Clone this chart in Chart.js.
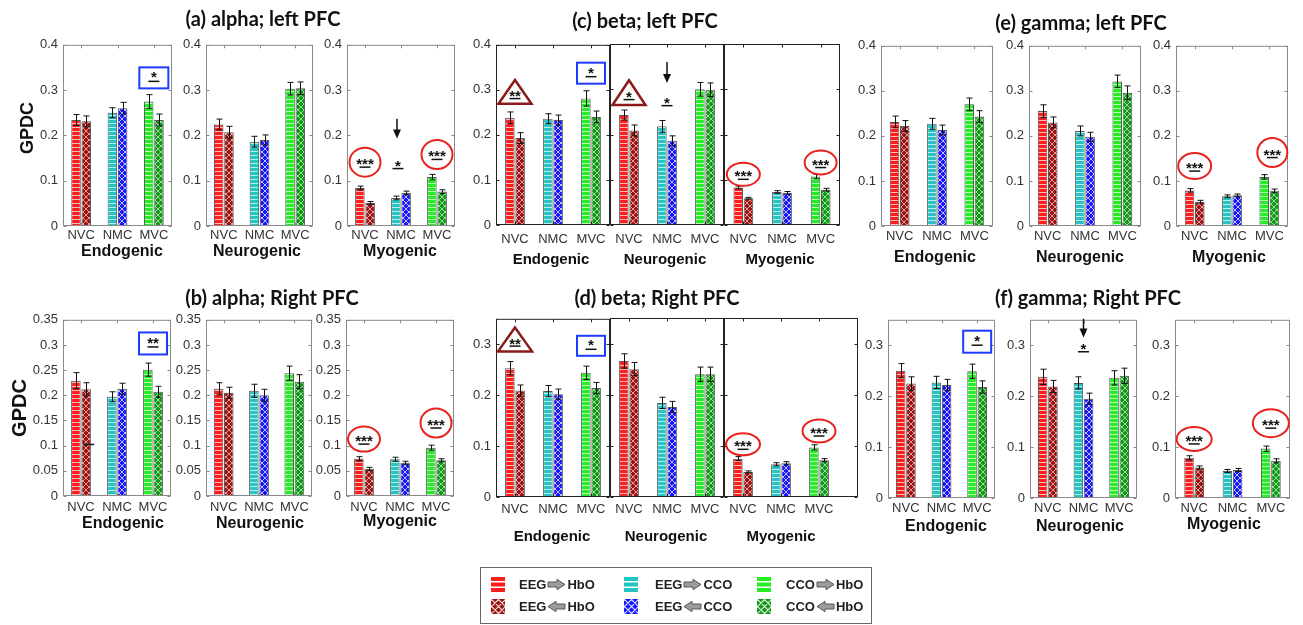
<!DOCTYPE html>
<html>
<head>
<meta charset="utf-8">
<title>GPDC</title>
<script src="https://cdn.jsdelivr.net/npm/chart.js@4.4.1/dist/chart.umd.min.js"></script>
<style>
body{margin:0;width:1303px;height:625px;position:relative;overflow:hidden;background:#fff;font-family:"Liberation Sans",Arial,sans-serif;color:#111}
canvas{position:absolute}
.ttl{position:absolute;transform:translate(-50%,-50%);white-space:nowrap;font-family:Lato,sans-serif;font-weight:700;font-size:20px}
.sub{position:absolute;transform:translate(-50%,-50%);white-space:nowrap;font-weight:700;font-size:16px}
.ylab{position:absolute;transform:translate(-50%,-50%) rotate(-90deg);font-weight:700;white-space:nowrap}
.leg{position:absolute;left:480px;top:567px;width:392px;height:57px;border:1.5px solid #666;box-sizing:border-box}
.lt{position:absolute;transform:translateY(-50%);white-space:nowrap;font-weight:700;font-size:13px;display:flex;align-items:center;color:#222}
.lt svg{margin:0 1px}
</style>
</head>
<body>
<script>
var cats = ['NVC', 'NMC', 'MVC'];
var groups = ['Endogenic', 'Neurogenic', 'Myogenic'];
var titles = ['(a) alpha; left PFC', '(b) alpha; Right PFC', '(c) beta; left PFC', '(d) beta; Right PFC', '(e) gamma; left PFC', '(f) gamma; Right PFC'];
var legFrom = ['EEG', 'EEG', 'CCO'];
var legTo = ['HbO', 'CCO', 'HbO'];

// rows = Endogenic, Neurogenic, Myogenic ; columns = NVC, NMC, MVC
// (a) alpha; left PFC
var aFwd = [[0.234, 0.250, 0.275], [0.224, 0.186, 0.303], [0.084, 0.062, 0.108]];
var aBwd = [[0.231, 0.260, 0.234], [0.207, 0.190, 0.304], [0.051, 0.073, 0.076]];
var aErrF = [[0.012, 0.011, 0.015], [0.012, 0.012, 0.014], [0.004, 0.004, 0.006]];
var aErrB = [[0.012, 0.013, 0.013], [0.013, 0.011, 0.014], [0.003, 0.004, 0.004]];
// (b) alpha; Right PFC
var bFwd = [[0.229, 0.197, 0.251], [0.213, 0.209, 0.244], [0.074, 0.073, 0.096]];
var bBwd = [[0.212, 0.213, 0.207], [0.205, 0.200, 0.227], [0.054, 0.066, 0.071]];
var bErrF = [[0.016, 0.010, 0.013], [0.012, 0.013, 0.014], [0.004, 0.004, 0.005]];
var bErrB = [[0.013, 0.011, 0.011], [0.011, 0.012, 0.014], [0.003, 0.003, 0.003]];
// (c) beta; left PFC
var cFwd = [[0.238, 0.236, 0.281], [0.243, 0.218, 0.300], [0.083, 0.073, 0.107]];
var cBwd = [[0.193, 0.233, 0.240], [0.209, 0.186, 0.299], [0.059, 0.071, 0.078]];
var cErrF = [[0.013, 0.011, 0.017], [0.011, 0.013, 0.015], [0.003, 0.003, 0.005]];
var cErrB = [[0.012, 0.011, 0.013], [0.012, 0.011, 0.015], [0.002, 0.003, 0.003]];
// (d) beta; Right PFC
var dFwd = [[0.253, 0.208, 0.244], [0.266, 0.184, 0.240], [0.075, 0.064, 0.097]];
var dBwd = [[0.209, 0.202, 0.214], [0.250, 0.176, 0.240], [0.049, 0.066, 0.072]];
var dErrF = [[0.013, 0.011, 0.013], [0.014, 0.011, 0.014], [0.004, 0.003, 0.005]];
var dErrB = [[0.011, 0.010, 0.011], [0.013, 0.011, 0.014], [0.002, 0.003, 0.003]];
// (e) gamma; left PFC
var eFwd = [[0.231, 0.227, 0.270], [0.255, 0.211, 0.321], [0.079, 0.066, 0.109]];
var eBwd = [[0.222, 0.213, 0.243], [0.230, 0.198, 0.296], [0.054, 0.068, 0.078]];
var eErrF = [[0.013, 0.012, 0.014], [0.014, 0.011, 0.014], [0.004, 0.003, 0.005]];
var eErrB = [[0.012, 0.011, 0.013], [0.012, 0.010, 0.015], [0.003, 0.003, 0.004]];
// (f) gamma; Right PFC
var fFwd = [[0.250, 0.227, 0.249], [0.238, 0.226, 0.236], [0.079, 0.053, 0.097]];
var fBwd = [[0.225, 0.222, 0.218], [0.219, 0.195, 0.240], [0.060, 0.055, 0.073]];
var fErrF = [[0.014, 0.012, 0.014], [0.015, 0.012, 0.014], [0.004, 0.003, 0.005]];
var fErrB = [[0.013, 0.011, 0.012], [0.012, 0.011, 0.015], [0.003, 0.003, 0.004]];

// significance marks (category index + value on the y axis)
var aAnn = [
  [{t: 'box', c: 2, y: 0.327, w: 29, h: 21, s: '*'}],
  [],
  [{t: 'ring', c: 0, y: 0.141, w: 31, h: 29, s: '***'}, {t: 'arrow', c: 1, y0: 0.237, y1: 0.193, dx: -4},
   {t: 'sig', c: 1, y: 0.14, s: '*', dx: -3}, {t: 'ring', c: 2, y: 0.158, w: 31, h: 29, s: '***'}]
];
var bAnn = [
  [{t: 'box', c: 2, y: 0.303, w: 28, h: 22, s: '**'}, {t: 'dash', c: 0, ds: 1, y: 0.103, w: 11}],
  [],
  [{t: 'ring', c: 0, y: 0.113, w: 32, h: 25, s: '***'}, {t: 'ring', c: 2, y: 0.145, w: 31, h: 29, s: '***'}]
];
var cAnn = [
  [{t: 'tri', c: 0, y0: 0.269, y1: 0.322, w: 33, s: '**'}, {t: 'box', c: 2, y: 0.337, w: 28, h: 21, s: '*'}],
  [{t: 'tri', c: 0, y0: 0.265, y1: 0.32, w: 33, s: '*'}, {t: 'arrow', c: 1, y0: 0.36, y1: 0.314},
   {t: 'sig', c: 1, y: 0.277, s: '*'}],
  [{t: 'ring', c: 0, y: 0.112, w: 33, h: 23, s: '***'}, {t: 'ring', c: 2, y: 0.138, w: 32, h: 24, s: '***'}]
];
var dAnn = [
  [{t: 'tri', c: 0, y0: 0.286, y1: 0.333, w: 34, s: '**'}, {t: 'box', c: 2, y: 0.297, w: 28, h: 20, s: '*'}],
  [],
  [{t: 'ring', c: 0, y: 0.103, w: 34, h: 22, s: '***'}, {t: 'ring', c: 2, y: 0.129, w: 33, h: 23, s: '***'}]
];
var eAnn = [
  [], [],
  [{t: 'ring', c: 0, y: 0.133, w: 33, h: 26, s: '***'}, {t: 'ring', c: 2, y: 0.163, w: 30, h: 29, s: '***', dx: 3}]
];
var fAnn = [
  [{t: 'box', c: 2, y: 0.307, w: 28, h: 22, s: '*'}],
  [{t: 'arrow', c: 1, y0: 0.352, y1: 0.315}, {t: 'sig', c: 1, y: 0.299, s: '*'}],
  [{t: 'ring', c: 0, y: 0.116, w: 35, h: 24, s: '***'}, {t: 'ring', c: 2, y: 0.147, w: 36, h: 28, s: '***'}]
];

var fwdCol = ['#ff1c1c', '#22c4c4', '#22ee22'];
var bwdCol = ['#9a1414', '#1717ff', '#14961a'];
var bwdLine = ['rgba(255,200,200,0.75)', 'rgba(220,220,255,0.85)', 'rgba(200,255,200,0.7)'];

function stripes(col) {
  var c = document.createElement('canvas');
  c.width = 4; c.height = 4;
  var x = c.getContext('2d');
  x.fillStyle = col; x.fillRect(0, 0, 4, 4);
  x.fillStyle = 'rgba(255,255,255,0.7)'; x.fillRect(0, 3, 4, 1);
  return x.createPattern(c, 'repeat');
}
function hatch(col, line) {
  var s = 6, c = document.createElement('canvas');
  c.width = s; c.height = s;
  var x = c.getContext('2d');
  x.fillStyle = col; x.fillRect(0, 0, s, s);
  x.strokeStyle = line; x.lineWidth = 1;
  x.beginPath(); x.moveTo(0, 0); x.lineTo(s, s); x.moveTo(s, 0); x.lineTo(0, s); x.stroke();
  return x.createPattern(c, 'repeat');
}
var patF = fwdCol.map(stripes);
var patB = bwdCol.map(function(c, i) { return hatch(c, bwdLine[i]); });

var panels = [
  {fwd: aFwd, bwd: aBwd, ef: aErrF, eb: aErrB, ann: aAnn, max: 0.4, step: 0.1, T: 44, B: 226,
   xs: [[63, 172], [206, 313], [347, 455]], pad: 2, title: [263, 18], subs: [[122, 251], [257, 251], [400, 251]], subFs: 16},
  {fwd: bFwd, bwd: bBwd, ef: bErrF, eb: bErrB, ann: bAnn, max: 0.35, step: 0.05, T: 319, B: 496,
   xs: [[63, 171], [206, 312], [346, 454]], pad: 4, title: [272, 297], subs: [[123, 523], [260, 523], [400, 521]], subFs: 16},
  {fwd: cFwd, bwd: cBwd, ef: cErrF, eb: cErrB, ann: cAnn, max: 0.4, step: 0.1, T: 44, B: 225, joined: true,
   xs: [[496, 610], [610, 724], [724, 840]], pad: 7, title: [645, 20], subs: [[551, 258], [665, 258], [780, 258]], subFs: 15},
  {fwd: dFwd, bwd: dBwd, ef: dErrF, eb: dErrB, ann: dAnn, max: 0.35, step: 0.1, T: 318, B: 497, joined: true,
   xs: [[496, 610], [610, 724], [724, 838]], ext: [0, 0, 20], pad: 5, title: [657, 297], subs: [[552, 535], [666, 535], [781, 535]], subFs: 15},
  {fwd: eFwd, bwd: eBwd, ef: eErrF, eb: eErrB, ann: eAnn, max: 0.4, step: 0.1, T: 45, B: 226,
   xs: [[881, 993], [1029, 1141], [1176, 1288]], pad: 3, title: [1081, 22], subs: [[935, 257], [1080, 257], [1229, 257]], subFs: 16},
  {fwd: fFwd, bwd: fBwd, ef: fErrF, eb: fErrB, ann: fAnn, max: 0.35, step: 0.1, T: 319, B: 498,
   xs: [[888, 995], [1030, 1137], [1175, 1290]], pad: 3, title: [1088, 297], subs: [[946, 526], [1080, 526], [1224, 524]], subFs: 16}
];

function stars(ctx, s, x, y, lineY) {
  ctx.fillStyle = '#111';
  ctx.font = 'bold 15px "Liberation Sans"';
  ctx.textAlign = 'center'; ctx.textBaseline = 'alphabetic';
  ctx.fillText(s, x, y + 8.5);
  ctx.strokeStyle = '#111'; ctx.lineWidth = 1.5;
  ctx.beginPath(); ctx.moveTo(x - 5.5, lineY); ctx.lineTo(x + 5.5, lineY); ctx.stroke();
}

function decor(P, k, ext, boxCol) {
  return {
    id: 'decor',
    afterDatasetsDraw: function(chart) {
      var ctx = chart.ctx, a = chart.chartArea, xs = chart.scales.x, ys = chart.scales.y;
      ctx.save();
      // error bars
      ctx.strokeStyle = '#111'; ctx.lineWidth = 1;
      [P.ef[k], P.eb[k]].forEach(function(err, di) {
        var vals = di ? P.bwd[k] : P.fwd[k];
        chart.getDatasetMeta(di).data.forEach(function(bar, j) {
          var x = Math.round(bar.x) + 0.5;
          var y1 = ys.getPixelForValue(vals[j] + err[j]), y2 = ys.getPixelForValue(vals[j] - err[j]);
          ctx.beginPath();
          ctx.moveTo(x, y1); ctx.lineTo(x, y2);
          ctx.moveTo(x - 3, y1); ctx.lineTo(x + 3, y1);
          ctx.moveTo(x - 3, y2); ctx.lineTo(x + 3, y2);
          ctx.stroke();
        });
      });
      // axes box with inward ticks
      var l = a.left + 0.5, r = a.right + ext - 0.5, t = a.top + 0.5, b = a.bottom - 0.5;
      ctx.strokeStyle = boxCol; ctx.lineWidth = 1;
      ctx.strokeRect(l, t, r - l, b - t);
      ctx.beginPath();
      ys.ticks.forEach(function(tk) {
        var y = Math.round(ys.getPixelForValue(tk.value)) + 0.5;
        ctx.moveTo(l, y); ctx.lineTo(l + 3, y);
        ctx.moveTo(r, y); ctx.lineTo(r - 3, y);
      });
      for (var j = 0; j < cats.length; j++) {
        var x = Math.round(xs.getPixelForValue(j)) + 0.5;
        ctx.moveTo(x, b); ctx.lineTo(x, b - 3);
        ctx.moveTo(x, t); ctx.lineTo(x, t + 3);
      }
      ctx.stroke();
      // significance marks
      P.ann[k].forEach(function(m) {
        var cx = xs.getPixelForValue(m.c) + (m.dx || 0);
        if (m.t === 'box') {
          var cy = ys.getPixelForValue(m.y);
          ctx.strokeStyle = '#1e3cff'; ctx.lineWidth = 2;
          ctx.strokeRect(cx - m.w / 2, cy - m.h / 2, m.w, m.h);
          stars(ctx, m.s, cx, cy - 4, cy + 3.5);
        } else if (m.t === 'ring') {
          var cy = ys.getPixelForValue(m.y);
          ctx.strokeStyle = '#e8221e'; ctx.lineWidth = 2;
          ctx.beginPath(); ctx.ellipse(cx, cy, m.w / 2, m.h / 2, 0, 0, Math.PI * 2); ctx.stroke();
          stars(ctx, m.s, cx, cy - 1.5, cy + 5);
        } else if (m.t === 'tri') {
          var yb = ys.getPixelForValue(m.y0), ya = ys.getPixelForValue(m.y1);
          ctx.strokeStyle = '#8b1a1a'; ctx.lineWidth = 2.5; ctx.lineJoin = 'miter';
          ctx.beginPath(); ctx.moveTo(cx, ya); ctx.lineTo(cx + m.w / 2, yb); ctx.lineTo(cx - m.w / 2, yb); ctx.closePath(); ctx.stroke();
          stars(ctx, m.s, cx, ya + 0.53 * (yb - ya), ya + 0.78 * (yb - ya));
        } else if (m.t === 'sig') {
          var cy = ys.getPixelForValue(m.y);
          stars(ctx, m.s, cx, cy, cy + 6);
        } else if (m.t === 'arrow') {
          var y0 = ys.getPixelForValue(m.y0), y1 = ys.getPixelForValue(m.y1);
          ctx.strokeStyle = '#111'; ctx.fillStyle = '#111'; ctx.lineWidth = 1.5;
          ctx.beginPath(); ctx.moveTo(cx, y0); ctx.lineTo(cx, y1 - 6); ctx.stroke();
          ctx.beginPath(); ctx.moveTo(cx - 4, y1 - 9); ctx.lineTo(cx + 4, y1 - 9); ctx.lineTo(cx, y1); ctx.closePath(); ctx.fill();
        } else if (m.t === 'dash') {
          var bx = chart.getDatasetMeta(m.ds).data[m.c].x, cy = Math.round(ys.getPixelForValue(m.y)) + 0.5;
          ctx.strokeStyle = '#111'; ctx.lineWidth = 1.5;
          ctx.beginPath(); ctx.moveTo(bx - 3, cy); ctx.lineTo(bx - 3 + m.w, cy); ctx.stroke();
        }
      });
      ctx.restore();
    }
  };
}

function drawPlot(P, k) {
  var L = P.xs[k][0], R = P.xs[k][1];
  var ext = P.ext ? P.ext[k] : 0;
  var ylab = !P.joined || k === 0;
  var yw = ylab ? 40 : 4, pt = 12, pr = 6 + ext, xh = 26;
  var w = R - L + yw + pr, h = P.B - P.T + pt + xh;
  var cv = document.createElement('canvas');
  cv.width = w; cv.height = h;
  cv.style.left = (L - yw) + 'px';
  cv.style.top = (P.T - pt) + 'px';
  document.body.appendChild(cv);
  var catW = (R - L) / 3;
  var tickFont = {size: 13, family: 'Liberation Sans'};
  new Chart(cv, {
    type: 'bar',
    data: {
      labels: cats,
      datasets: [
        {data: P.fwd[k], backgroundColor: patF, borderColor: '#555', borderWidth: 1,
         categoryPercentage: 20.5 / catW, barPercentage: 0.93},
        {data: P.bwd[k], backgroundColor: patB, borderColor: '#555', borderWidth: 1,
         categoryPercentage: 20.5 / catW, barPercentage: 0.93}
      ]
    },
    options: {
      responsive: false,
      animation: false,
      events: [],
      layout: {padding: {top: pt, right: pr, left: 0, bottom: 0}},
      plugins: {legend: {display: false}, tooltip: {enabled: false}},
      scales: {
        x: {
          grid: {display: false, drawTicks: false}, border: {display: false},
          ticks: {padding: P.pad, font: tickFont, color: '#333', maxRotation: 0, autoSkip: false},
          afterFit: function(s) { s.height = xh; }
        },
        y: {
          min: 0, max: P.max,
          grid: {display: false, drawTicks: false}, border: {display: false},
          ticks: {display: ylab, stepSize: P.step, includeBounds: false, padding: 5, font: tickFont, color: '#333',
                  callback: function(v) { return String(+v.toFixed(2)); }},
          afterFit: function(s) { s.width = yw; }
        }
      }
    },
    plugins: [decor(P, k, ext, P.joined ? '#222' : '#8a8a8a')]
  });
}

function addText(cls, txt, x, y, extra) {
  var d = document.createElement('div');
  d.className = cls;
  d.textContent = txt;
  d.style.left = x + 'px';
  d.style.top = y + 'px';
  if (extra) d.style.fontSize = extra;
  document.body.appendChild(d);
}

panels.forEach(function(P, i) {
  for (var k = 0; k < 3; k++) {
    drawPlot(P, k);
    addText('sub', groups[k], P.subs[k][0], P.subs[k][1], P.subFs + 'px');
  }
  addText('ttl', titles[i], P.title[0], P.title[1]);
});
addText('ylab', 'GPDC', 27, 128, '18px');
addText('ylab', 'GPDC', 19, 408, '20px');

// legend
var leg = document.createElement('div');
leg.className = 'leg';
document.body.appendChild(leg);
var swX = [491, 624, 757], txX = [519, 655, 786], rowY = [584, 606];
function arrowSvg(right) {
  var pts = right ? '1,3.5 10,3.5 10,0.8 18,6 10,11.2 10,8.5 1,8.5' : '18,3.5 9,3.5 9,0.8 1,6 9,11.2 9,8.5 18,8.5';
  return '<svg width="19" height="12" viewBox="0 0 19 12"><polygon points="' + pts + '" fill="#9c9c9c" stroke="#555" stroke-width="1"/></svg>';
}
for (var i = 0; i < 3; i++) {
  for (var r = 0; r < 2; r++) {
    var sw = document.createElement('canvas');
    sw.width = 14; sw.height = 15;
    sw.style.left = swX[i] + 'px';
    sw.style.top = (rowY[r] - 7.5) + 'px';
    var g = sw.getContext('2d');
    if (r === 0) {
      g.fillStyle = fwdCol[i]; g.fillRect(0, 0, 14, 15);
      g.fillStyle = '#fff'; g.fillRect(0, 4, 14, 1.5); g.fillRect(0, 9.5, 14, 1.5);
    } else {
      g.fillStyle = bwdCol[i]; g.fillRect(0, 0, 14, 15);
      g.strokeStyle = 'rgba(255,255,255,0.85)'; g.lineWidth = 1.2;
      g.beginPath();
      for (var o = -14; o <= 14; o += 7) {
        g.moveTo(o, 0); g.lineTo(o + 15, 15);
        g.moveTo(o + 15, 0); g.lineTo(o, 15);
      }
      g.stroke();
    }
    document.body.appendChild(sw);
    var lt = document.createElement('div');
    lt.className = 'lt';
    lt.style.left = txX[i] + 'px';
    lt.style.top = rowY[r] + 'px';
    lt.innerHTML = '<span>' + legFrom[i] + '</span>' + arrowSvg(r === 0) + '<span>' + legTo[i] + '</span>';
    document.body.appendChild(lt);
  }
}
</script>
</body>
</html>
